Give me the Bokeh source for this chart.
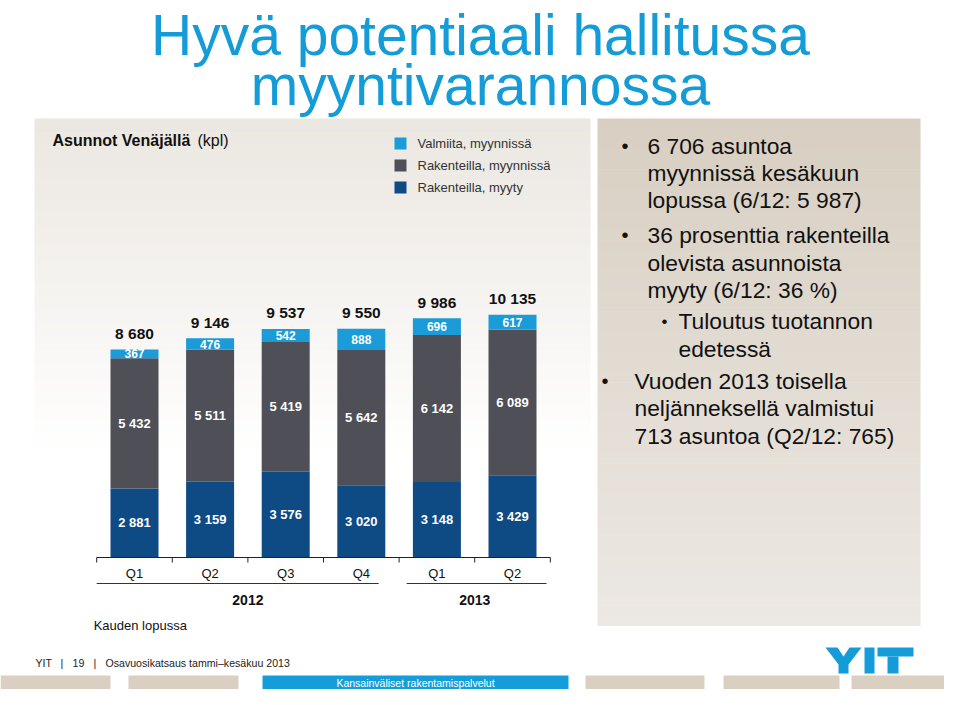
from bokeh.plotting import figure
from bokeh.models import Range1d
from bokeh.core.properties import value
from bokeh.embed import file_html
from bokeh.resources import INLINE

# ---------------- data ----------------
quarters = ["Q1", "Q2", "Q3", "Q4", "Q1", "Q2"]
years = ["2012", "2013"]
year_members = [[0, 1, 2, 3], [4, 5]]
valmiita_myynnissa = [367, 476, 542, 888, 696, 617]
rakenteilla_myynnissa = [5432, 5511, 5419, 5642, 6142, 6089]
rakenteilla_myyty = [2881, 3159, 3576, 3020, 3148, 3429]
series_names = ["Valmiita, myynnissä", "Rakenteilla, myynnissä", "Rakenteilla, myyty"]
series_colors = ["#1b9bd7", "#4e4f57", "#0e4a84"]

title_lines = ["Hyvä potentiaali hallitussa", "myyntivarannossa"]
chart_title_bold = "Asunnot Venäjällä"
chart_title_rest = "(kpl)"
footnote = "Kauden lopussa"
bullets = [
    (0, ["6 706 asuntoa", "myynnissä kesäkuun", "lopussa (6/12: 5 987)"]),
    (0, ["36 prosenttia rakenteilla", "olevista asunnoista", "myyty (6/12: 36 %)"]),
    (1, ["Tuloutus tuotannon", "edetessä"]),
    (2, ["Vuoden 2013 toisella", "neljänneksellä valmistui", "713 asuntoa (Q2/12: 765)"]),
]
footer_parts = ["YIT", "|", "19", "|", "Osavuosikatsaus  tammi–kesäkuu 2013"]
tab_text = "Kansainväliset rakentamispalvelut"

BLUE = "#139cd8"
FONT = value("Liberation Sans")


def fmt(v):
    return f"{v:,}".replace(",", " ")


# ---------------- figure (page-pixel coordinates) ----------------
W, H = 944, 689
p = figure(width=W, height=H, x_range=Range1d(0, W), y_range=Range1d(H, 0),
           output_backend="svg", toolbar_location=None, min_border=0,
           x_axis_location=None, y_axis_location=None)
p.grid.visible = False
p.outline_line_color = None
p.background_fill_color = "white"
p.border_fill_color = "white"


def hexrgb(c):
    c = c.lstrip("#")
    return tuple(int(c[i:i + 2], 16) for i in (0, 2, 4))


def vgrad(x0, x1, y0, y1, c0, c1, n=40):
    a, b = hexrgb(c0), hexrgb(c1)
    tops, bots, cols = [], [], []
    for i in range(n):
        t = i / (n - 1)
        col = "#%02x%02x%02x" % tuple(int(round(a[k] + (b[k] - a[k]) * t)) for k in range(3))
        tops.append(y0 + (y1 - y0) * i / n)
        bots.append(y0 + (y1 - y0) * (i + 1) / n + 0.6)
        cols.append(col)
    p.quad(left=x0, right=x1, top=tops, bottom=bots, fill_color=cols, line_color=None)


# panels
vgrad(34, 590, 118, 460, "#ebe7e1", "#ffffff", 50)
vgrad(597, 920, 118, 625, "#d8cfc2", "#ece8e3", 50)

# title
p.text(x=[480, 480], y=[34, 84], text=title_lines, text_align="center",
       text_baseline="alphabetic", text_font=FONT, text_font_size="57px", text_color=BLUE)

# chart title
p.text(x=[52], y=[140], text=[chart_title_bold], text_font=FONT, text_font_style="bold",
       text_font_size="16px", text_baseline="middle", text_color="#111111")
p.text(x=[197], y=[140], text=[chart_title_rest], text_font=FONT,
       text_font_size="16px", text_baseline="middle", text_color="#111111")

# legend
leg_y = [143, 165, 187]
p.rect(x=[400] * 3, y=leg_y, width=12, height=12, fill_color=series_colors, line_color=None)
p.text(x=[417] * 3, y=leg_y, text=series_names, text_font=FONT, text_font_size="13px",
       text_baseline="middle", text_color="#333333")

# ---------------- chart scales ----------------
X0, DX = 134, 75.6          # page x of first bar, spacing
BASE, K = 557, 0.02396      # page y of zero, px per unit
p.extra_x_ranges = {"cat": Range1d((0 - X0) / DX, (W - X0) / DX)}
p.extra_y_ranges = {"val": Range1d(-(H - BASE) / K, (BASE - 0) / K)}
R = dict(x_range_name="cat", y_range_name="val")

idx = list(range(len(quarters)))
b0 = [0] * len(idx)
t0 = rakenteilla_myyty
t1 = [a + b for a, b in zip(t0, rakenteilla_myynnissa)]
t2 = [a + b for a, b in zip(t1, valmiita_myynnissa)]
BW = 0.635
p.vbar(x=idx, bottom=b0, top=t0, width=BW, fill_color=series_colors[2], line_color=None, **R)
p.vbar(x=idx, bottom=t0, top=t1, width=BW, fill_color=series_colors[1], line_color=None, **R)
p.vbar(x=idx, bottom=t1, top=t2, width=BW, fill_color=series_colors[0], line_color=None, **R)

# segment labels
p.text(x=idx, y=[t / 2 for t in t0], text=[fmt(v) for v in rakenteilla_myyty], text_align="center",
       text_baseline="middle", text_font=FONT, text_font_style="bold", text_font_size="13px",
       text_color="white", **R)
p.text(x=idx, y=[(a + b) / 2 for a, b in zip(t0, t1)], text=[fmt(v) for v in rakenteilla_myynnissa],
       text_align="center", text_baseline="middle", text_font=FONT, text_font_style="bold",
       text_font_size="13px", text_color="white", **R)
p.text(x=idx, y=[(a + b) / 2 for a, b in zip(t1, t2)], text=[fmt(v) for v in valmiita_myynnissa],
       text_align="center", text_baseline="middle", text_font=FONT, text_font_style="bold",
       text_font_size="12px", text_color="white", **R)
# totals
p.text(x=idx, y=t2, text=[fmt(v) for v in t2], text_align="center", text_baseline="middle",
       y_offset=-16, text_font=FONT, text_font_style="bold", text_font_size="15.5px",
       text_color="#111111", **R)

# axis line + ticks
n = len(idx)
p.segment(x0=[-0.5], y0=[0], x1=[n - 0.5], y1=[0], line_color="#222222", line_width=1, **R)
tick_x = [i - 0.5 for i in range(n + 1)]
p.segment(x0=tick_x, y0=[0] * len(tick_x), x1=tick_x, y1=[-5 / K] * len(tick_x),
          line_color="#222222", line_width=1, **R)
p.text(x=idx, y=[0] * n, text=quarters, y_offset=16, text_align="center", text_baseline="middle",
       text_font=FONT, text_font_size="13px", text_color="#111111", **R)

# year groups
yl_x0 = [min(m) - 0.5 for m in year_members]
yl_x1 = [max(m) + 0.5 for m in year_members]
yl_x0[1] += 0.1
yl_x1[0] -= 0.27
yl_x1[1] -= 0.05
p.segment(x0=yl_x0, y0=[-26 / K] * 2, x1=yl_x1, y1=[-26 / K] * 2, line_color="#333333",
          line_width=1, **R)
p.text(x=[sum(m) / len(m) for m in year_members], y=[-42 / K] * 2, text=years,
       text_align="center", text_baseline="middle", text_font=FONT, text_font_style="bold",
       text_font_size="14px", text_color="#111111", **R)
p.text(x=[-0.54], y=[-68 / K], text=[footnote], text_baseline="middle", text_font=FONT,
       text_font_size="13px", text_color="#111111", **R)

# ---------------- right panel bullets ----------------
indent = {0: (621, 647), 1: (661, 678), 2: (601, 634)}
line_y = 145
LH = 27.3
gaps = [0, 8, 4, 5]
for k, (lvl, lines) in enumerate(bullets):
    line_y += gaps[k]
    bx, tx = indent[lvl]
    p.text(x=[bx], y=[line_y], text=["•"], text_baseline="middle", text_font=FONT,
           text_font_size="20px" if lvl != 1 else "17px", text_color="#111111")
    ys = [line_y + LH * i for i in range(len(lines))]
    p.text(x=[tx] * len(lines), y=ys, text=lines, text_baseline="middle", text_font=FONT,
           text_font_size="22.8px", text_color="#111111")
    line_y = ys[-1] + LH

# ---------------- footer (kept inside the visible page) ----------------
fx = [35, 60, 72, 93, 105]
p.text(x=fx, y=[662] * 5, text=footer_parts, text_baseline="middle", text_font=FONT,
       text_font_size="10.6px", text_color="#222222")

# logo YIT
LY = -5
yx = [825, 837, 843, 849, 861, 848, 848, 838, 838]
yy = [v + LY for v in [652, 652, 661, 652, 652, 669, 678, 678, 669]]
p.patch(x=yx, y=yy, fill_color=BLUE, line_color=None)
p.quad(left=[864, 877, 887], right=[874, 913, 898],
       top=[652 + LY, 652 + LY, 661 + LY], bottom=[678 + LY, 661 + LY, 678 + LY],
       fill_color=BLUE, line_color=None)

# tabs
tab_l = [0, 128, 262, 585, 723, 851]
tab_r = [110, 238, 568, 704, 839, 960]
tab_c = ["#d9d0c2", "#d9d0c2", "#159dd9", "#d9d0c2", "#d9d0c2", "#d9d0c2"]
p.quad(left=tab_l, right=tab_r, top=[675] * 6, bottom=[689] * 6, fill_color=tab_c, line_color=None)
p.text(x=[415], y=[682], text=[tab_text], text_align="center", text_baseline="middle",
       text_font=FONT, text_font_size="10.5px", text_color="white")

open("out.html", "w").write(file_html(p, INLINE))
